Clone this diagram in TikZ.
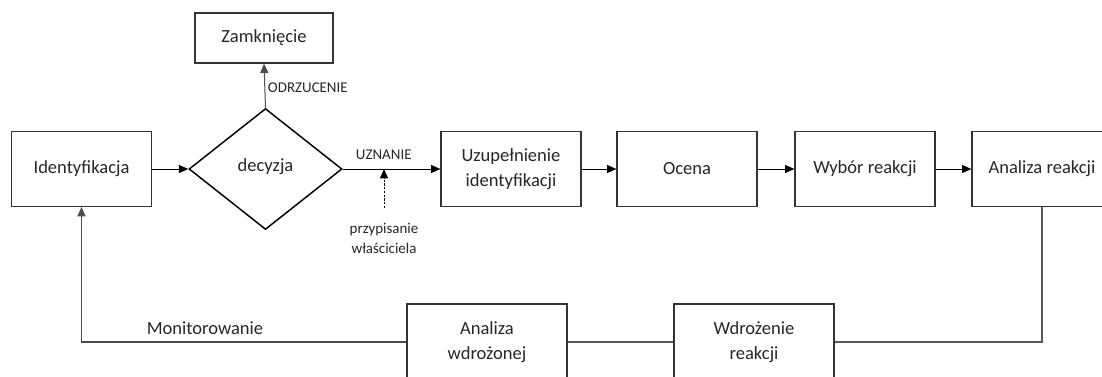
\documentclass[tikz,border=0pt]{standalone}
\usepackage{fontspec}
\setmainfont{Carlito}
\usetikzlibrary{shapes.geometric,arrows.meta}
\begin{document}
\begin{tikzpicture}[x=0.75pt,y=-0.75pt,
  txt/.style={font=\fontsize{13.9}{18.5}\selectfont, text=black!85},
  box/.style={txt, draw=black!80, line width=0.9pt, minimum width=105pt,
    minimum height=56pt, align=center, inner sep=2pt},
  widebox/.style={box, minimum width=120pt, minimum height=57pt},
  lbl/.style={font=\fontsize{11.2}{15}\selectfont, text=black!85, inner sep=0pt, align=center},
  tip/.style={-{Triangle[length=7pt,width=6pt]}},
  flow/.style={tip, line width=0.75pt, black},
  loopline/.style={draw=black!65, line width=0.9pt}]
\useasboundingbox (0,0) rectangle (1102,376);
\clip (0,0) rectangle (1102,376);

% process steps
\node[box, minimum width=103.5pt, minimum height=37.5pt] (zam) at (264,38) {Zamknięcie};
\node[box] (ide) at (81.5,169) {Identyfikacja};
\node[txt, draw=black, line width=1.1pt, diamond, minimum width=114.75pt,
  minimum height=90.75pt, inner sep=0pt] (dec) at (265.5,169) {\raisebox{6pt}{decyzja}};
\node[box] (uzu) at (511,169) {Uzupełnienie\\identyfikacji};
\node[box] (oce) at (687,169) {Ocena};
\node[box] (wyb) at (865,169) {Wybór reakcji};
\node[box] (ana) at (1042,169) {Analiza reakcji};
\node[widebox] (awd) at (487,342) {Analiza\\wdrożonej};
\node[widebox] (wdr) at (754,342) {Wdrożenie\\reakcji};

% main flow
\draw[flow] (ide.east) -- (dec.west);
\draw[flow, black!70] (dec.north) -- (zam.south)
  node[lbl, anchor=west, pos=0.45, xshift=2pt] {ODRZUCENIE};
\draw[flow] (dec.east) -- (uzu.west)
  node[lbl, pos=0.42, above=7pt] {UZNANIE};
\draw[flow] (uzu.east) -- (oce.west);
\draw[flow] (oce.east) -- (wyb.west);
\draw[flow] (wyb.east) -- (ana.west);

% owner assignment
\coordinate (join) at (384,169);
\node[lbl, anchor=north] (own) at (384,223) {przypisanie\\właściciela};
\draw[tip, line width=0.7pt, dash pattern=on 1.6pt off 1.2pt] (own.north) ++(0,-15) -- (join);

% feedback loop
\draw[loopline] (ana.south) |- (wdr.east);
\draw[loopline] (wdr.west) -- (awd.east);
\draw[loopline, tip, black!70] (awd.west) -| (ide.south)
  node[txt, inner sep=0pt, pos=0.31, above=5pt] {Monitorowanie};
\end{tikzpicture}
\end{document}
